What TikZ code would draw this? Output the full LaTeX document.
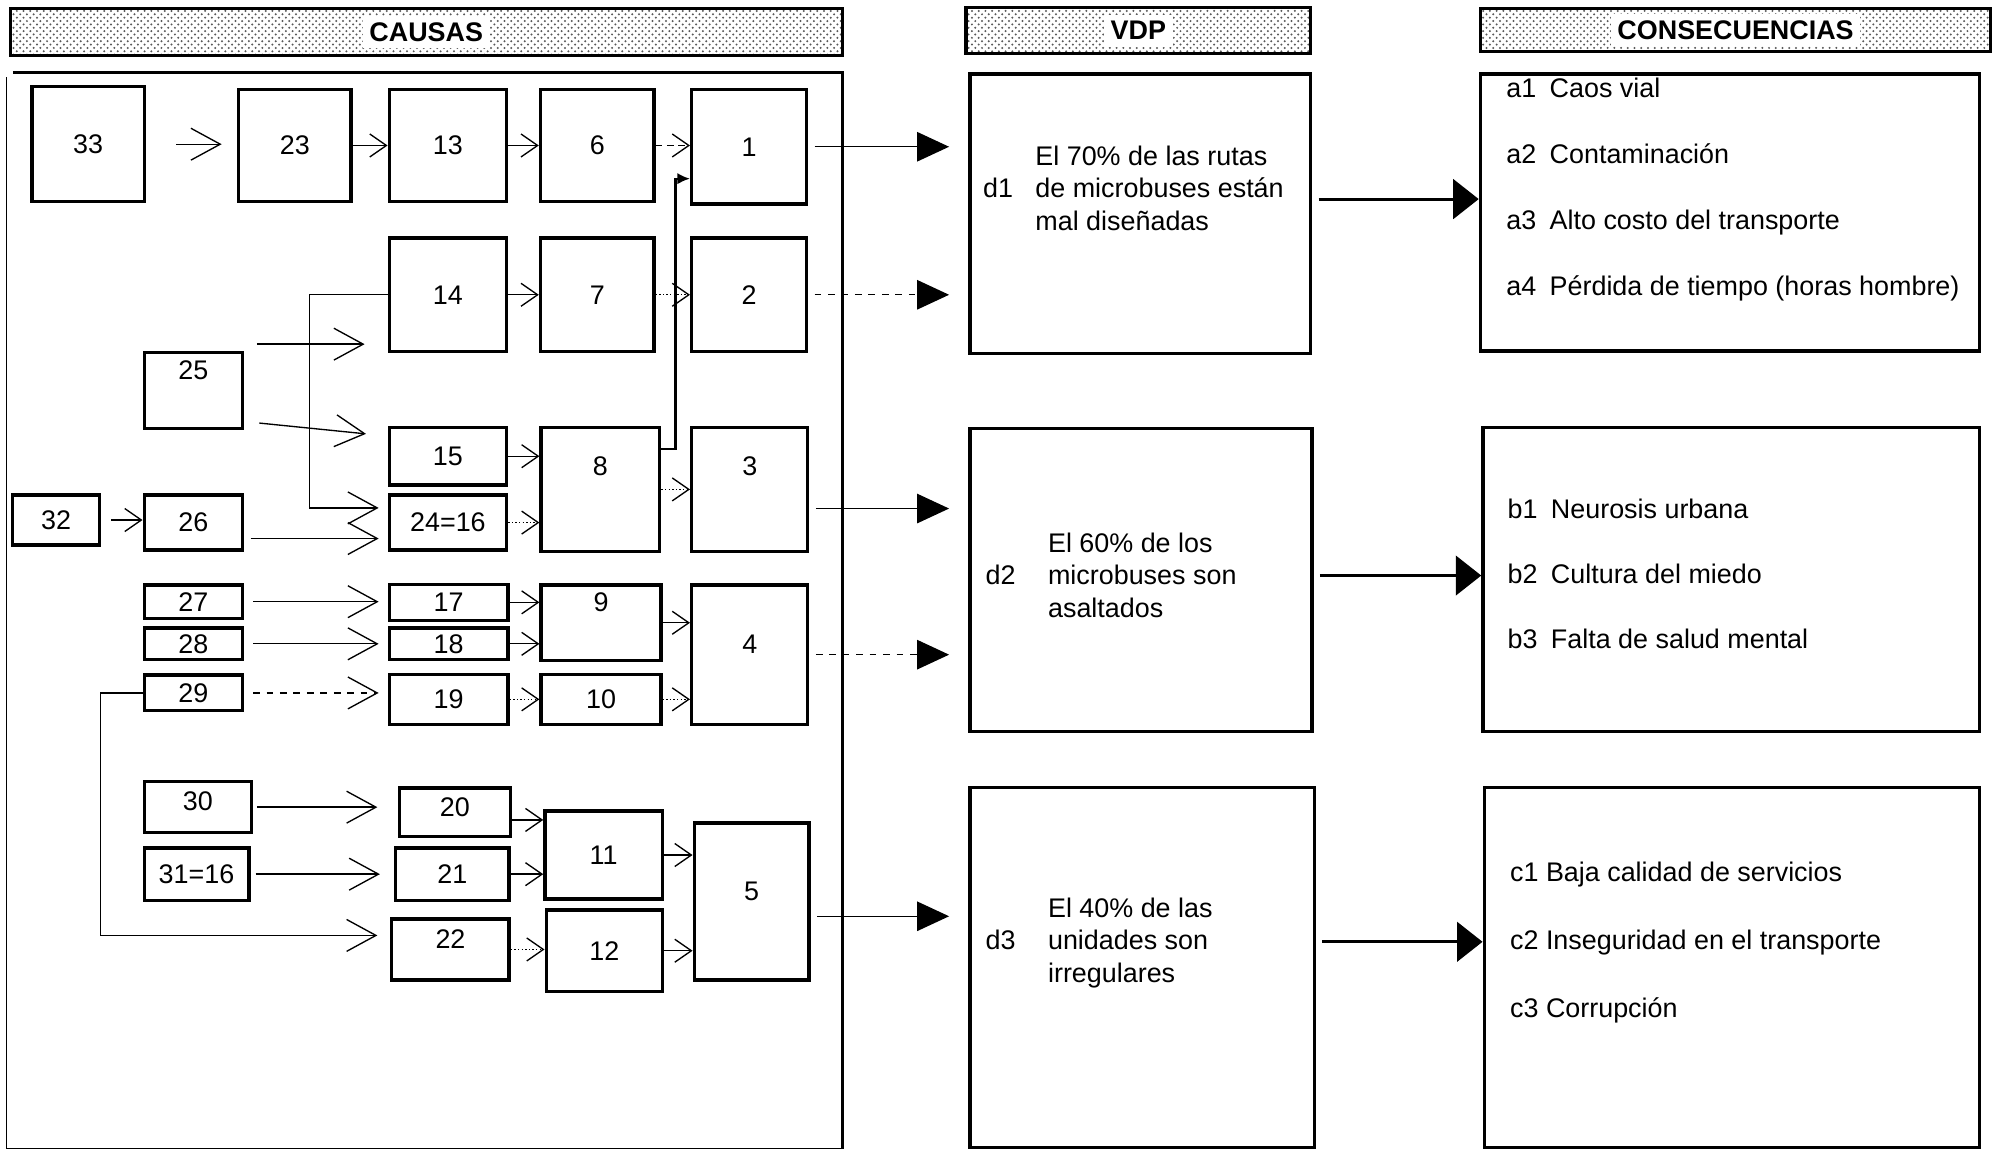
\documentclass[tikz,border=0pt]{standalone}
\usepackage{fontspec}
\setmainfont{Liberation Sans}
\usetikzlibrary{arrows.meta,patterns}

\begin{document}
\begin{tikzpicture}[x=0.02cm, y=-0.02cm, font=\fontsize{12}{14.5}\selectfont,
    caja/.style={draw, line width=1.5pt, inner sep=0pt},
    cabecera/.style={draw, line width=1.5pt, pattern=crosshatch dots, pattern color=black!65, inner sep=0pt, font=\fontsize{12}{14.5}\selectfont\bfseries},
    chev/.style={semithick, -{Straight Barb[length=0.26cm,width=0.36cm]}},
    bigchev/.style={semithick, -{Straight Barb[length=0.46cm,width=0.5cm]}},
    vdparrow/.style={semithick, -{Triangle[length=0.5cm,width=0.46cm]}, shorten <=0.1cm, shorten >=0.3cm},
    conarrow/.style={line width=1.3pt, -{Triangle[length=0.4cm,width=0.62cm]}, shorten <=0.1cm}]
    \useasboundingbox (0,0) rectangle (1568,902);
    % cabeceras
    \node[cabecera, minimum width=13.04cm, minimum height=0.74cm] (hcausas) at (334,25) {\colorbox{white}{CAUSAS}};
    \node[cabecera, minimum width=5.40cm, minimum height=0.72cm] (hvdp) at (892,24) {\colorbox{white}{VDP}};
    \node[cabecera, minimum width=8.00cm, minimum height=0.68cm] (hcons) at (1360,23.5) {\colorbox{white}{CONSECUENCIAS}};
    % marco de causas
    \draw[line width=1.5pt] (10,57) -- (660,57) -- (660,900);
    \draw[thin] (660,900) -- (5,900) -- (5,60);
    % causas
    \node[caja, minimum width=1.76cm, minimum height=1.80cm] (c33) at (69,113) {33};
    \node[caja, minimum width=1.76cm, minimum height=1.76cm] (c23) at (231,114) {23};
    \node[caja, minimum width=1.84cm, minimum height=1.76cm] (c13) at (351,114) {13};
    \node[caja, minimum width=1.78cm, minimum height=1.76cm] (c6) at (468,114) {6};
    \node[caja, minimum width=1.80cm, minimum height=1.80cm] (c1) at (587,115) {1};
    \node[caja, minimum width=1.84cm, minimum height=1.78cm] (c14) at (351,231) {14};
    \node[caja, minimum width=1.78cm, minimum height=1.78cm] (c7) at (468,231) {7};
    \node[caja, minimum width=1.80cm, minimum height=1.78cm] (c2) at (587,231) {2};
    \node[caja, minimum width=1.54cm, minimum height=1.20cm, text depth=0.64cm] (c25) at (151.5,306) {25};
    \node[caja, minimum width=1.84cm, minimum height=0.90cm] (c15) at (351,357.5) {15};
    \node[caja, minimum width=1.84cm, minimum height=0.86cm] (c2416) at (351,409.5) {24=16};
    \node[caja, minimum width=1.86cm, minimum height=1.94cm, text depth=0.72cm] (c8) at (470.5,383.5) {8};
    \node[caja, minimum width=1.82cm, minimum height=1.94cm, text depth=0.72cm] (c3) at (587.5,383.5) {3};
    \node[caja, minimum width=1.36cm, minimum height=0.78cm] (c32) at (44,407.5) {32};
    \node[caja, minimum width=1.54cm, minimum height=0.86cm] (c26) at (151.5,409.5) {26};
    \node[caja, minimum width=1.54cm, minimum height=0.52cm] (c27) at (151.5,471.5) {27};
    \node[caja, minimum width=1.54cm, minimum height=0.50cm] (c28) at (151.5,504.5) {28};
    \node[caja, minimum width=1.54cm, minimum height=0.56cm] (c29) at (151.5,543) {29};
    \node[caja, minimum width=1.86cm, minimum height=0.56cm] (c17) at (351.5,472) {17};
    \node[caja, minimum width=1.86cm, minimum height=0.50cm] (c18) at (351.5,504.5) {18};
    \node[caja, minimum width=1.86cm, minimum height=0.78cm] (c19) at (351.5,548) {19};
    \node[caja, minimum width=1.88cm, minimum height=1.18cm, text depth=0.64cm] (c9) at (471,488) {9};
    \node[caja, minimum width=1.88cm, minimum height=0.78cm] (c10) at (471,548) {10};
    \node[caja, minimum width=1.82cm, minimum height=2.18cm, text depth=0.32cm] (c4) at (587.5,513) {4};
    \node[caja, minimum width=1.68cm, minimum height=0.80cm, text depth=0.2cm] (c30) at (155,632.5) {30};
    \node[caja, minimum width=1.64cm, minimum height=0.82cm] (c3116) at (154,685) {31=16};
    \node[caja, minimum width=1.74cm, minimum height=0.76cm, text depth=0.16cm] (c20) at (356.5,636.5) {20};
    \node[caja, minimum width=1.78cm, minimum height=0.82cm] (c21) at (354.5,685) {21};
    \node[caja, minimum width=1.84cm, minimum height=0.96cm, text depth=0.32cm] (c22) at (353,744) {22};
    \node[caja, minimum width=1.84cm, minimum height=1.38cm] (c11) at (473,670) {11};
    \node[caja, minimum width=1.82cm, minimum height=1.28cm] (c12) at (473.5,745) {12};
    \node[caja, minimum width=1.80cm, minimum height=2.46cm, text depth=0.32cm] (c5) at (589,706.5) {5};
    % vdp y consecuencias
    \node[caja, minimum width=5.34cm, minimum height=4.38cm] (d1) at (893.5,167.5) {};
    \node[caja, minimum width=5.36cm, minimum height=4.74cm] (d2) at (894,454.5) {};
    \node[caja, minimum width=5.40cm, minimum height=5.64cm] (d3) at (895,758) {};
    \node[caja, minimum width=7.82cm, minimum height=4.34cm] (ca) at (1355.5,166.5) {};
    \node[caja, minimum width=7.78cm, minimum height=4.76cm] (cb) at (1356.5,454) {};
    \node[caja, minimum width=7.76cm, minimum height=5.64cm] (cc) at (1357,758) {};
    \node[anchor=west, inner sep=0pt] (d1t) at (770,150) {\begin{tabular}{@{}l@{\hspace{10pt}}l@{}} & El 70\% de las rutas\\ d1 & de microbuses están\\ & mal diseñadas\end{tabular}};
    \node[anchor=west, inner sep=0pt] (d2t) at (772,453) {\begin{tabular}{@{}l@{\hspace{14.5pt}}l@{}} & El 60\% de los\\ d2 & microbuses son\\ & asaltados\end{tabular}};
    \node[anchor=west, inner sep=0pt] (d3t) at (772,739) {\begin{tabular}{@{}l@{\hspace{14.5pt}}l@{}} & El 40\% de las\\ d3 & unidades son\\ & irregulares\end{tabular}};
    \node[anchor=west, inner sep=0pt] (cat) at (1180,149) {\begin{tabular}{@{}l@{\enspace}l@{}} a1 & Caos vial\\[15pt] a2 & Contaminación\\[15pt] a3 & Alto costo del transporte\\[15pt] a4 & Pérdida de tiempo (horas hombre)\end{tabular}};
    \node[anchor=west, inner sep=0pt] (cbt) at (1181,452) {\begin{tabular}{@{}l@{\enspace}l@{}} b1 & Neurosis urbana\\[14.5pt] b2 & Cultura del miedo\\[14.5pt] b3 & Falta de salud mental\end{tabular}};
    \node[anchor=west, inner sep=0pt] (cct) at (1183,739) {\begin{tabular}{@{}l@{}} c1 Baja calidad de servicios\\[16pt] c2 Inseguridad en el transporte\\[16pt] c3 Corrupción\end{tabular}};
    % flechas de causas
    \draw[bigchev, shorten <=0.48cm, shorten >=0.24cm] (c33.east) -- (c33.east -| c23.west);
    \draw[chev] (c23.east) -- (c23.east -| c13.west);
    \draw[chev] (c13.east) -- (c13.east -| c6.west);
    \draw[chev, densely dashed] (c6.east) -- (c6.east -| c1.west);
    \draw[chev] (c14.east) -- (c14.east -| c7.west);
    \draw[chev, densely dotted] (c7.east) -- (c7.east -| c2.west);
    \draw[chev] (c15.east) -- (c15.east -| c8.west);
    \draw[chev, densely dotted] (c2416.east) -- (c2416.east -| c8.west);
    \draw[chev, densely dotted] (c8.east) -- (c8.east -| c3.west);
    \draw[chev, shorten <=0.16cm] (c32.east) -- (c32.east -| c26.west);
    \draw[bigchev, shorten <=0.2cm, shorten >=0.36cm] ([yshift=0.1cm]c25.north east) -- ([yshift=0.1cm]c25.north east -| c14.west);
    \draw[bigchev, shorten <=0.24cm, shorten >=0.34cm] ([yshift=0.14cm]c25.south east) -- ([yshift=-0.16cm]c15.north west);
    \draw[bigchev, shorten >=0.14cm] (c14.west) -- ++(-61,0) |- ([yshift=0.23cm]c2416.west);
    \draw[bigchev, shorten <=0.1cm, shorten >=0.14cm] ([yshift=-0.25cm]c26.east) -- ([yshift=-0.25cm]c26.east -| c2416.west);
    \draw[bigchev, shorten <=0.14cm, shorten >=0.14cm] (c27.east) -- (c27.east -| c17.west);
    \draw[bigchev, shorten <=0.14cm, shorten >=0.14cm] (c28.east) -- (c28.east -| c18.west);
    \draw[bigchev, dashed, shorten <=0.14cm, shorten >=0.14cm] (c29.east) -- (c29.east -| c19.west);
    \draw[bigchev, shorten >=0.2cm] (c29.west) -- ++(-33,0) |- ([yshift=0.22cm]c22.west);
    \draw[bigchev, shorten <=0.06cm, shorten >=0.32cm] (c30.east) -- (c30.east -| c20.west);
    \draw[bigchev, shorten <=0.08cm, shorten >=0.22cm] (c3116.east) -- (c3116.east -| c21.west);
    \draw[chev] (c17.east) -- (c17.east -| c9.west);
    \draw[chev] (c18.east) -- (c18.east -| c9.west);
    \draw[chev, densely dotted] (c19.east) -- (c19.east -| c10.west);
    \draw[chev] (c9.east) -- (c9.east -| c4.west);
    \draw[chev, densely dotted] (c10.east) -- (c10.east -| c4.west);
    \draw[chev] ([yshift=-0.12cm]c20.east) -- ([yshift=-0.12cm]c20.east -| c11.west);
    \draw[chev] (c21.east) -- (c21.east -| c11.west);
    \draw[chev, densely dotted] (c22.east) -- (c22.east -| c12.west);
    \draw[chev] (c11.east) -- (c11.east -| c5.west);
    \draw[chev] (c12.east) -- (c12.east -| c5.west);
    \draw[line width=1pt, -{Latex[length=0.2cm,width=0.18cm]}] ([yshift=0.63cm]c8.east) -- ++(11,0) |- ([yshift=-0.5cm]c1.west);
    % flechas hacia vdp y consecuencias
    \draw[vdparrow] (c1.east) -- (c1.east -| d1.west);
    \draw[vdparrow, dashed] (c2.east) -- (c2.east -| d1.west);
    \draw[vdparrow] ([yshift=-0.3cm]c3.east) -- ([yshift=-0.3cm]c3.east -| d2.west);
    \draw[vdparrow, dashed] (c4.east) -- (c4.east -| d2.west);
    \draw[vdparrow] ([yshift=-0.23cm]c5.east) -- ([yshift=-0.23cm]c5.east -| d3.west);
    \draw[conarrow] ([yshift=0.23cm]d1.east) -- ([yshift=0.23cm]d1.east -| ca.west);
    \draw[conarrow] ([yshift=0.07cm]d2.east) -- ([yshift=0.07cm]d2.east -| cb.west);
    \draw[conarrow] ([yshift=0.4cm]d3.east) -- ([yshift=0.4cm]d3.east -| cc.west);
\end{tikzpicture}
\end{document}
